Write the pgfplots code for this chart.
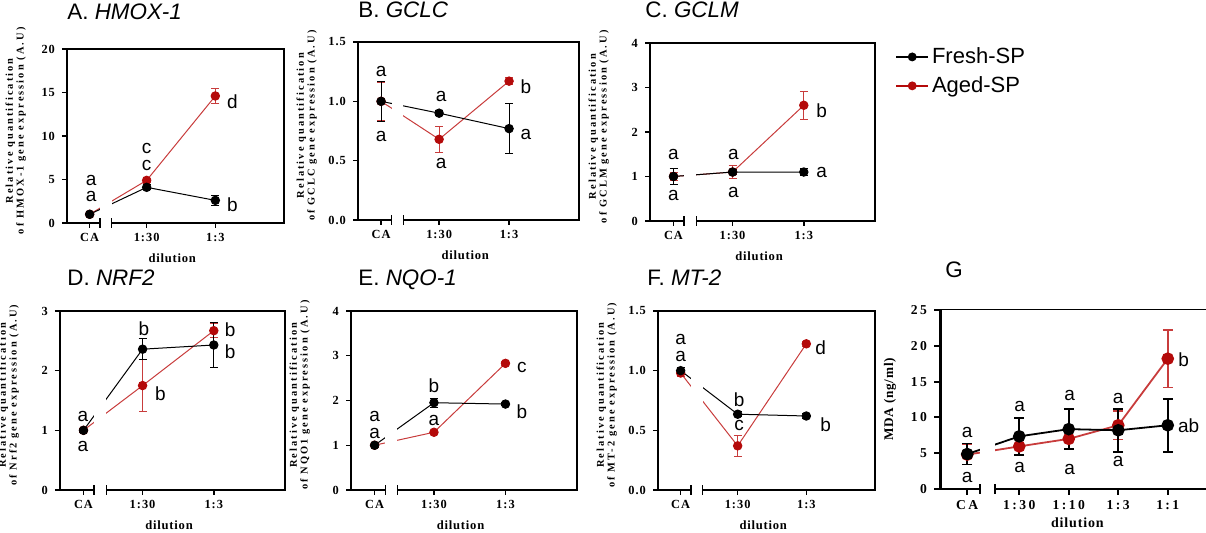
\documentclass[border=0pt]{standalone}
\usepackage{pgfplots}
\pgfplotsset{compat=1.18}
\usepackage{fontspec}
\setmainfont{Liberation Sans}
\newfontfamily\tickfont[LetterSpace=8]{Liberation Serif}
\newfontfamily\ylabfont[LetterSpace=20]{Liberation Serif}
\newfontfamily\xlabfont[LetterSpace=6]{Liberation Serif}
\newfontfamily\gtickfont[LetterSpace=18]{Liberation Serif}
\definecolor{agedred}{RGB}{180,10,10}
\definecolor{agedline}{RGB}{200,60,60}

% white gap + end ticks of the broken x axis
\newcommand\brk[4]{%
  \fill[white] ([yshift=-2.5pt]axis cs:#1,0) rectangle ([yshift=-1pt]axis cs:#2,#3);
  \draw[line width=#4] ([yshift=-2.3pt]axis cs:#1,0) -- ([yshift=2.3pt]axis cs:#1,0);
  \draw[line width=#4] ([yshift=-2.3pt]axis cs:#2,0) -- ([yshift=2.3pt]axis cs:#2,0);}

\tikzset{lt/.style={font=\fontsize{9.5}{10}\selectfont, inner sep=0pt, anchor=center}}

\pgfplotsset{
  panel/.style={
    scale only axis, anchor=south west, clip=false,
    xmin=-0.16, xmax=3,
    xtick={0.17,1,2}, xticklabels={CA,1:30,1:3},
    tick align=outside, xtick pos=left, ytick pos=left,
    major tick length=2.5pt,
    axis line style={line width=0.7pt}, tick style={line width=0.7pt,black},
    /pgf/number format/assume math mode=true,
    tick label style={font=\tickfont\bfseries\fontsize{6.2}{7}\selectfont},
    xticklabel style={yshift=0.8pt},
    xlabel={dilution},
    xlabel style={font=\xlabfont\bfseries\fontsize{6.3}{7}\selectfont,
      at={([yshift=-17.5pt]axis description cs:0.485,0)}, anchor=center},
    ylabel style={font=\ylabfont\bfseries\fontsize{5.2}{5.4}\selectfont, align=center,
      at={([xshift=-17pt]axis description cs:0,0.53)}, anchor=south},
    title style={at={(axis description cs:0,1)}, anchor=base west,
      font=\fontsize{11.2}{12}\selectfont, inner sep=0pt},
    every axis plot/.append style={line width=0.5pt},
    error bars/error bar style={line width=0.5pt},
    error bars/error mark options={rotate=90, mark size=2pt, line width=0.5pt},
  },
  fresh/.style={black, mark=*, mark size=2.1pt, forget plot,
    error bars/y dir=both, error bars/y explicit},
  aged/.style={agedline, mark=*, mark size=2.1pt, forget plot,
    mark options={fill=agedred, draw=agedred},
    error bars/y dir=both, error bars/y explicit},
}

\begin{document}
\begin{tikzpicture}
\useasboundingbox (0,0) rectangle (603pt,266.5pt);

% ---------------- A. HMOX-1
\begin{axis}[panel, at={(33.5pt,155pt)}, width=108.5pt, height=87pt,
  ymin=0, ymax=20, ytick={0,5,10,15,20},
  ylabel={Relative quantification\\of HMOX-1 gene expression (A.U)},
  title={A. \textit{HMOX-1}}, title style={yshift=8.5pt}]
\addplot[aged] coordinates {(0.17,1.0) +- (0,0.1) (1,4.9) +- (0,0.2) (2,14.6) +- (0,0.9)};
\addplot[fresh] coordinates {(0.17,1.0) +- (0,0.1) (1,4.1) +- (0,0.3) (2,2.6) +- (0,0.55)};
\brk{0.32}{0.49}{20}{0.7pt}
\node[lt] at (axis cs:0.19,4.92) {a};
\node[lt] at (axis cs:0.19,3.0) {a};
\node[lt] at (axis cs:1,8.6) {c};
\node[lt] at (axis cs:1,6.6) {c};
\node[lt] at (axis cs:2.25,13.96) {d};
\node[lt] at (axis cs:2.25,2.15) {b};
\end{axis}

% ---------------- B. GCLC
\begin{axis}[panel, at={(179pt,156.5pt)}, width=110.5pt, height=89pt,
  ymin=0, ymax=1.5, ytick={0,0.5,1,1.5},
  yticklabel style={/pgf/number format/fixed, /pgf/number format/fixed zerofill, /pgf/number format/precision=1},
  ylabel={Relative quantification\\of GCLC gene expression (A.U)},
  title={B. \textit{GCLC}}, title style={yshift=6pt}]
\addplot[aged] coordinates {(0.17,1.0) +- (0,0.16) (1,0.68) +- (0,0.11) (2,1.17) +- (0,0.03)};
\addplot[fresh] coordinates {(0.17,1.0) +- (0,0.17) (1,0.90) +- (0,0.02) (2,0.77) +- (0,0.21)};
\brk{0.32}{0.49}{1.5}{0.7pt}
\node[lt] at (axis cs:0.17,1.25) {a};
\node[lt] at (axis cs:0.17,0.70) {a};
\node[lt] at (axis cs:1.03,1.04) {a};
\node[lt] at (axis cs:1.03,0.48) {a};
\node[lt] at (axis cs:2.24,1.12) {b};
\node[lt] at (axis cs:2.24,0.72) {a};
\end{axis}

% ---------------- C. GCLM (+ legend)
\begin{axis}[panel, at={(325pt,156pt)}, width=112.5pt, height=89pt,
  ymin=0, ymax=4, ytick={0,1,2,3,4},
  ylabel={Relative quantification\\of GCLM gene expression (A.U)},
  title={C. \textit{GCLM}}, title style={yshift=6.5pt, xshift=-2.5pt},
  legend style={at={(axis description cs:1.089,0.994)}, anchor=north west,
    draw=none, fill=none, font=\fontsize{11}{12}\selectfont,
    row sep=2pt, inner sep=0pt, nodes={inner sep=1.5pt}},
  legend cell align=left,
  legend image code/.code={\draw[mark repeat=2,mark phase=2,#1] plot coordinates {(0pt,0pt) (8pt,0pt) (16pt,0pt)};}]
\addlegendimage{black, line width=0.8pt, mark=*, mark size=1.8pt}
\addlegendentry{Fresh-SP}
\addlegendimage{agedred, line width=0.8pt, mark=*, mark size=1.8pt, mark options={fill=agedred, draw=agedred}}
\addlegendentry{Aged-SP}
\addplot[aged] coordinates {(0.17,1.0) +- (0,0.1) (1,1.1) +- (0,0.15) (2,2.6) +- (0,0.32)};
\addplot[fresh] coordinates {(0.17,1.0) +- (0,0.18) (1,1.1) +- (0,0.06) (2,1.1) +- (0,0.08)};
\brk{0.32}{0.49}{4}{0.7pt}
\node[lt] at (axis cs:0.17,1.50) {a};
\node[lt] at (axis cs:0.17,0.58) {a};
\node[lt] at (axis cs:1.01,1.50) {a};
\node[lt] at (axis cs:1.01,0.63) {a};
\node[lt] at (axis cs:2.25,2.47) {b};
\node[lt] at (axis cs:2.25,1.10) {a};
\end{axis}

% ---------------- D. NRF2
\begin{axis}[panel, at={(30pt,21.5pt)}, width=112.5pt, height=89.5pt,
  ymin=0, ymax=3, ytick={0,1,2,3},
  ylabel={Relative quantification\\of Nrf2 gene expression (A.U)},
  title={D. \textit{NRF2}}, title style={yshift=6.5pt, xshift=3.5pt}]
\addplot[aged] coordinates {(0.17,1.0) +- (0,0.03) (1,1.75) +- (0,0.43) (2,2.67) +- (0,0.12)};
\addplot[fresh] coordinates {(0.17,1.0) +- (0,0.03) (1,2.36) +- (0,0.18) (2,2.43) +- (0,0.37)};
\brk{0.32}{0.49}{3}{0.7pt}
\node[lt] at (axis cs:0.16,1.24) {a};
\node[lt] at (axis cs:0.16,0.73) {a};
\node[lt] at (axis cs:1.02,2.70) {b};
\node[lt] at (axis cs:1.25,1.61) {b};
\node[lt] at (axis cs:2.23,2.69) {b};
\node[lt] at (axis cs:2.23,2.31) {b};
\end{axis}

% ---------------- E. NQO-1
\begin{axis}[panel, at={(175.5pt,21.5pt)}, width=113pt, height=89.5pt,
  ymin=0, ymax=4, ytick={0,1,2,3,4},
  ylabel={Relative quantification\\of NQO1 gene expression (A.U)},
  title={E. \textit{NQO-1}}, title style={yshift=6.5pt, xshift=3.5pt}]
\addplot[aged] coordinates {(0.17,1.0) +- (0,0.03) (1,1.29) +- (0,0.03) (2,2.83) +- (0,0.04)};
\addplot[fresh] coordinates {(0.17,1.0) +- (0,0.04) (1,1.95) +- (0,0.1) (2,1.92) +- (0,0.04)};
\brk{0.32}{0.49}{4}{0.7pt}
\node[lt] at (axis cs:0.17,1.64) {a};
\node[lt] at (axis cs:0.17,1.26) {a};
\node[lt] at (axis cs:1,2.34) {b};
\node[lt] at (axis cs:1,1.55) {a};
\node[lt] at (axis cs:2.23,2.74) {c};
\node[lt] at (axis cs:2.23,1.75) {b};
\end{axis}

% ---------------- F. MT-2
\begin{axis}[panel, at={(329pt,21.5pt)}, width=108.5pt, height=89.5pt,
  ymin=0, ymax=1.5, ytick={0,0.5,1,1.5},
  yticklabel style={/pgf/number format/fixed, /pgf/number format/fixed zerofill, /pgf/number format/precision=1},
  ylabel={Relative quantification\\of MT-2 gene expression (A.U)},
  title={F. \textit{MT-2}}, title style={yshift=6.5pt, xshift=-5.5pt}]
\addplot[aged] coordinates {(0.17,0.98) +- (0,0.03) (1,0.37) +- (0,0.09) (2,1.225) +- (0,0.02)};
\addplot[fresh] coordinates {(0.17,1.0) +- (0,0.03) (1,0.635) +- (0,0.02) (2,0.62) +- (0,0.02)};
\brk{0.32}{0.49}{1.5}{0.7pt}
\node[lt] at (axis cs:0.17,1.26) {a};
\node[lt] at (axis cs:0.17,1.12) {a};
\node[lt] at (axis cs:1.02,0.76) {b};
\node[lt] at (axis cs:1.02,0.54) {c};
\node[lt] at (axis cs:2.21,1.19) {d};
\node[lt] at (axis cs:2.28,0.55) {b};
\end{axis}

% ---------------- G. MDA
\begin{axis}[panel, at={(470pt,22pt)}, width=137.4pt, height=89.5pt,
  axis x line*=bottom, axis y line*=left,
  axis line style={line width=1pt}, y axis line style={line width=1.5pt},
  tick style={line width=1pt,black}, major tick length=3pt,
  xmin=-0.55, xmax=5,
  xtick={0,1.05,2.05,3.05,4.05}, xticklabels={CA,1:30,1:10,1:3,1:1},
  ymin=0, ymax=25, ytick={0,5,10,15,20,25},
  tick label style={font=\gtickfont\bfseries\fontsize{6.8}{7}\selectfont},
  xticklabel style={yshift=0pt},
  xlabel style={font=\xlabfont\bfseries\fontsize{7}{8}\selectfont,
    at={([yshift=-16.8pt]axis description cs:0.5,0)}},
  ylabel={MDA (ng/ml)},
  ylabel style={font=\xlabfont\bfseries\fontsize{6.6}{7}\selectfont,
    at={([xshift=-18.5pt]axis description cs:0,0.5)}},
  title={G}, title style={yshift=10pt, xshift=2.5pt},
  every axis plot/.append style={line width=0.9pt},
  error bars/error bar style={line width=0.8pt},
  error bars/error mark options={rotate=90, mark size=2.4pt, line width=0.8pt}]
\draw[line width=0.5pt] (rel axis cs:0,1) -- (rel axis cs:1,1);
\addplot[aged, mark size=2.7pt] coordinates {(0,4.8) +- (0,1.4) (1.05,5.95) +- (0,1.3) (2.05,7.0) +- (0,1.4) (3.05,8.9) +- (0,2.0) (4.05,18.2) +- (0,4.0)};
\addplot[fresh, mark size=2.7pt] coordinates {(0,4.88) +- (0,1.45) (1.05,7.35) +- (0,2.6) (2.05,8.36) +- (0,2.8) (3.05,8.2) +- (0,3.0) (4.05,8.9) +- (0,3.7)};
\brk{0.26}{0.57}{25}{1pt}
\node[lt] at (axis cs:0,7.95) {a};
\node[lt] at (axis cs:0,1.63) {a};
\node[lt] at (axis cs:1.06,11.5) {a};
\node[lt] at (axis cs:1.06,3.07) {a};
\node[lt] at (axis cs:2.07,13.06) {a};
\node[lt] at (axis cs:2.07,2.79) {a};
\node[lt] at (axis cs:3.05,12.6) {a};
\node[lt] at (axis cs:3.05,3.86) {a};
\node[lt] at (axis cs:4.37,18.0) {b};
\node[lt] at (axis cs:4.47,8.88) {ab};
\end{axis}
\end{tikzpicture}
\end{document}
